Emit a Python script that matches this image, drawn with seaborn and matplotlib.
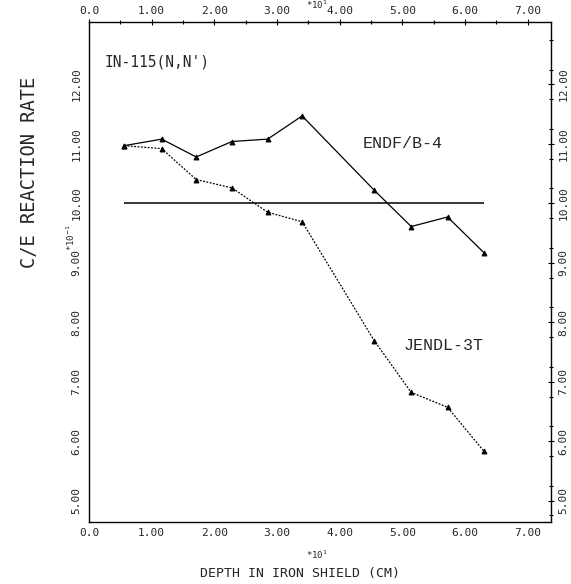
import matplotlib
matplotlib.use("Agg")
import matplotlib.pyplot as plt
import pandas as pd
import seaborn as sns

# Data (depth in cm, C/E in units of 1e-1)
depth = [5.6, 11.6, 17.1, 22.8, 28.5, 34.0, 45.5, 51.4, 57.2, 63.0]
endf = [10.97, 11.08, 10.78, 11.04, 11.08, 11.47, 10.22, 9.61, 9.77, 9.17]
jendl = [10.97, 10.92, 10.40, 10.26, 9.85, 9.69, 7.69, 6.82, 6.57, 5.83]
ref_value = 10.0

x_ticks = [0, 10, 20, 30, 40, 50, 60, 70]
x_labels = ["0.0", "1.00", "2.00", "3.00", "4.00", "5.00", "6.00", "7.00"]
y_ticks = [5, 6, 7, 8, 9, 10, 11, 12]
y_labels = ["5.00", "6.00", "7.00", "8.00", "9.00", "10.00", "11.00", "12.00"]

df = pd.DataFrame({"depth": depth, "ENDF/B-4": endf, "JENDL-3T": jendl})

sns.set_style("white")
plt.rcParams["font.family"] = ["DejaVu Sans Mono", "DejaVu Sans"]

W, H = 571, 584
fig = plt.figure(figsize=(W / 100, H / 100), dpi=100)
ax = fig.add_axes([89 / W, 1 - 522 / H, (551 - 89) / W, (522 - 22) / H])

sns.lineplot(data=df, x="depth", y="ENDF/B-4", ax=ax, color="black", lw=0.9,
             marker="^", markersize=3.5, markeredgecolor="black", sort=False)
sns.lineplot(data=df, x="depth", y="JENDL-3T", ax=ax, color="black", lw=0.9,
             linestyle=(0, (1.5, 1.2)), marker="^", markersize=3.5,
             markeredgecolor="black", sort=False)
ax.hlines(ref_value, depth[0], depth[-1], color="black", lw=1.1)

ax.set_xlim(0, 73.7)
ax.set_ylim(4.64, 13.05)
ax.set_xticks(x_ticks)
ax.set_xticklabels(x_labels)
ax.set_yticks(y_ticks)
ax.set_yticklabels(y_labels)
ax.set_xticks([5, 15, 25, 35, 45, 55, 65], minor=True)
ax.set_yticks([4.75 + 0.5 * i for i in range(17)], minor=True)
ax.tick_params(which="both", top=True, right=True, labeltop=True, labelright=True,
               direction="inout", color="black", width=0.8)
ax.tick_params(which="major", length=5, labelsize=8, pad=3)
ax.tick_params(axis="x", which="major", pad=1.5)
ax.tick_params(which="minor", length=3)
ax.tick_params(axis="y", labelrotation=90)
for lab in ax.get_yticklabels():
    lab.set_va("center")
ax.set_xlabel("")
ax.set_ylabel("")
for s in ax.spines.values():
    s.set_color("black")
    s.set_linewidth(1.0)

# annotations
fig.text(157 / W, 1 - 62 / H, "IN-115(N,N')", fontsize=10.5, ha="center", va="center")
fig.text(403 / W, 1 - 143 / H, "ENDF/B-4", fontsize=12, ha="center", va="center",
         family=["Liberation Mono", "DejaVu Sans Mono"])
fig.text(444 / W, 1 - 346 / H, "JENDL-3T", fontsize=12, ha="center", va="center",
         family=["Liberation Mono", "DejaVu Sans Mono"])

fig.text(30 / W, 1 - 172 / H, "C/E REACTION RATE", fontsize=13.5, rotation=90,
         ha="center", va="center")
fig.text(300 / W, 1 - 573 / H, "DEPTH IN IRON SHIELD (CM)", fontsize=9.5,
         ha="center", va="center")
fig.text(317 / W, 1 - 555 / H, "*10$^{1}$", fontsize=6.5, ha="center", va="center")
fig.text(317 / W, 1 - 5 / H, "*10$^{1}$", fontsize=6.5, ha="center", va="center")
fig.text(71 / W, 1 - 237 / H, "*10$^{-1}$", fontsize=6.5, rotation=90,
         ha="center", va="center")

fig.savefig("out.png", dpi=100, facecolor="white")
